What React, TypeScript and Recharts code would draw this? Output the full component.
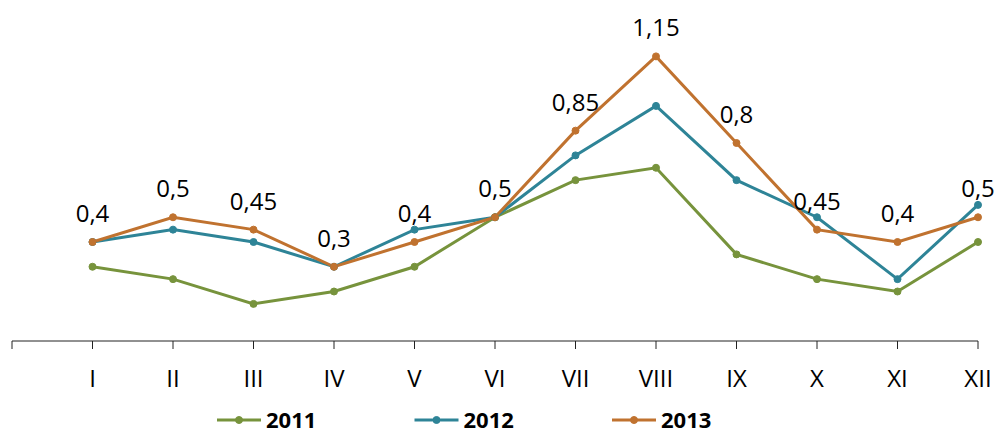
import React from "react";
import { LineChart, Line, XAxis, YAxis, Legend, LabelList } from "recharts";

const months = ["I", "II", "III", "IV", "V", "VI", "VII", "VIII", "IX", "X", "XI", "XII"];
const s2011 = [0.3, 0.25, 0.15, 0.2, 0.3, 0.5, 0.65, 0.7, 0.35, 0.25, 0.2, 0.4];
const s2012 = [0.4, 0.45, 0.4, 0.3, 0.45, 0.5, 0.75, 0.95, 0.65, 0.5, 0.25, 0.55];
const s2013 = [0.4, 0.5, 0.45, 0.3, 0.4, 0.5, 0.85, 1.15, 0.8, 0.45, 0.4, 0.5];
const seriesNames = ["2011", "2012", "2013"];
const colors = ["#77933C", "#2E8497", "#C0722F"];

const data = months.map((m, i) => ({
  x: i + 1,
  m,
  "2011": s2011[i],
  "2012": s2012[i],
  "2013": s2013[i],
}));

const ticks = [0, ...months.map((_, i) => i + 1)];
const FONT = "'Open Sans', sans-serif";

const fmt = (v: number) => String(v).replace(".", ",");

const LegendContent = () => (
  <svg width={995} height={30} style={{ display: "block", overflow: "visible" }}>
    {seriesNames.map((n, i) => {
      const x0 = 217 + i * 197.5;
      return (
        <g key={n}>
          <line x1={x0} y1={15} x2={x0 + 44} y2={15} stroke={colors[i]} strokeWidth={3} />
          <circle cx={x0 + 22} cy={15} r={3.5} fill={colors[i]} stroke={colors[i]} />
          <text x={x0 + 49} y={23} fontFamily={FONT} fontWeight={700} fontSize={22} fill="#000">
            {n}
          </text>
        </g>
      );
    })}
  </svg>
);

export default function App() {
  return (
    <div style={{ position: "absolute", left: 0, top: 0, width: 995, height: 434, background: "#fff" }}>
      <LineChart width={995} height={434} data={data} margin={{ top: 44, left: 12, right: 17, bottom: 33 }}>
        <XAxis
          type="number"
          dataKey="x"
          domain={[0, 12]}
          ticks={ticks}
          interval={0}
          height={60}
          tickSize={8}
          tickMargin={21}
          stroke="#222"
          tickLine={{ stroke: "#222" }}
          tick={{ fill: "#000", fontFamily: FONT, fontSize: 24 }}
          tickFormatter={(v: number) => (v >= 1 ? months[v - 1] : "")}
        />
        <YAxis hide domain={[0, 1.2]} />
        <Legend
          verticalAlign="middle"
          align="center"
          layout="horizontal"
          wrapperStyle={{ top: 405, left: 0, width: 995, height: 30 }}
          content={<LegendContent />}
        />
        {seriesNames.map((n, i) => (
          <Line
            key={n}
            type="linear"
            dataKey={n}
            stroke={colors[i]}
            strokeWidth={3}
            dot={{ r: 3.5, fill: colors[i], stroke: colors[i], strokeWidth: 1 }}
            activeDot={false}
            isAnimationActive={false}
          >
            {n === "2013" ? (
              <LabelList
                dataKey={n}
                position="top"
                offset={20}
                formatter={(v: number) => fmt(v)}
                style={{ fill: "#000", fontFamily: FONT, fontSize: 24 }}
              />
            ) : null}
          </Line>
        ))}
      </LineChart>
    </div>
  );
}
